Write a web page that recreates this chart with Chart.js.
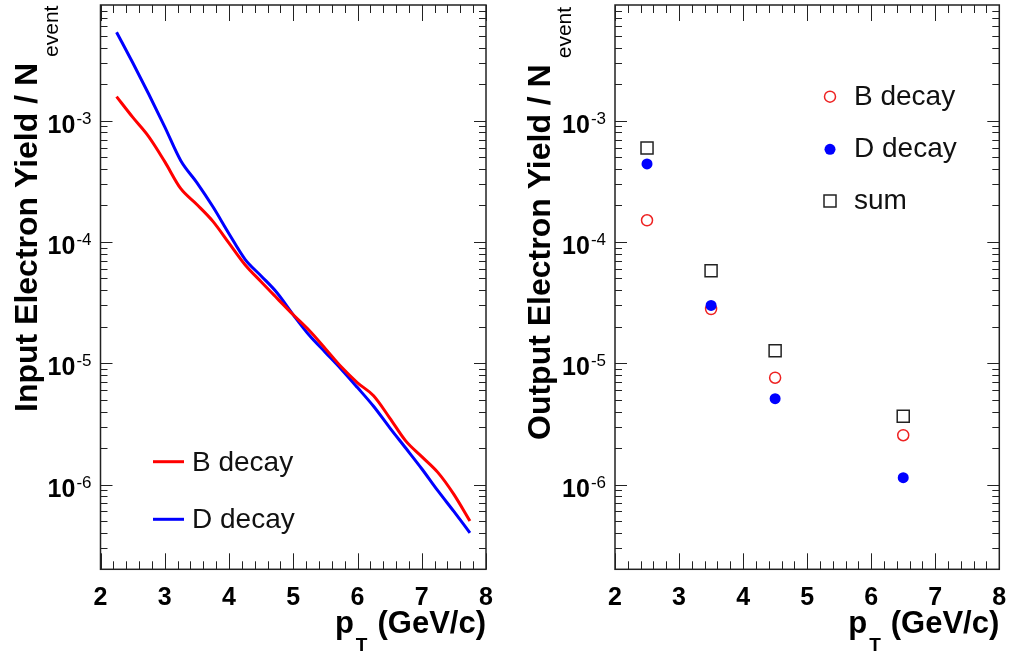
<!DOCTYPE html>
<html>
<head>
<meta charset="utf-8">
<script src="https://cdn.jsdelivr.net/npm/chart.js@4.4.0/dist/chart.umd.min.js"></script>
<style>
  html, body { margin: 0; padding: 0; background: #fff; }
  #wrap { position: relative; width: 1011px; height: 652px; overflow: hidden; }
  .panel { position: absolute; top: 0; height: 652px; }
</style>
</head>
<body>
<div id="wrap">
  <div class="panel" style="left:0;width:505px"><canvas id="inputChart" width="505" height="652"></canvas></div>
  <div class="panel" style="left:505px;width:506px"><canvas id="outputChart" width="506" height="652"></canvas></div>
</div>
<script>
// input yields (left panel)
const curvePt = [2.25, 2.5, 2.75, 3, 3.25, 3.5, 3.75, 4, 4.25, 4.5, 4.75, 5, 5.25, 5.5, 5.75, 6, 6.25, 6.5, 6.75, 7, 7.25, 7.5, 7.75];
const bDecayInput = [1.58e-3, 1.07e-3, 7.4e-4, 4.6e-4, 2.75e-4, 2.04e-4, 1.48e-4, 9.8e-5, 6.5e-5, 4.7e-5, 3.43e-5, 2.51e-5, 1.86e-5, 1.32e-5, 9.3e-6, 6.9e-6, 5.4e-6, 3.55e-6, 2.29e-6, 1.70e-6, 1.26e-6, 8.3e-7, 5.0e-7];
const dDecayInput = [5.37e-3, 3.02e-3, 1.66e-3, 8.9e-4, 4.68e-4, 3.09e-4, 1.95e-4, 1.17e-4, 7.2e-5, 5.25e-5, 3.8e-5, 2.51e-5, 1.70e-5, 1.23e-5, 8.9e-6, 6.3e-6, 4.42e-6, 2.95e-6, 2.0e-6, 1.35e-6, 8.9e-7, 6.0e-7, 4.0e-7];

// output yields (right panel)
const outPt = [2.5, 3.5, 4.5, 6.5];
const bDecayOutput = [1.51e-4, 2.8e-5, 7.6e-6, 2.55e-6];
const dDecayOutput = [4.4e-4, 3.0e-5, 5.1e-6, 1.14e-6];
const sumOutput = [5.96e-4, 5.8e-5, 1.27e-5, 3.65e-6];

// axes
const xTickLabels = ['2', '3', '4', '5', '6', '7', '8'];
const yDecades = [-6, -5, -4, -3];
const xRange = [2, 8];
const yRange = [2e-7, 9e-3];

const FONT = '"Liberation Sans", Arial, Helvetica, sans-serif';
const RED = '#ff0000';
const BLUE = '#0000ff';

const toXY = (xs, ys) => xs.map((v, i) => ({ x: v, y: ys[i] }));

function rootFrame(panel) {
  return {
    id: 'rootFrame',
    afterDraw(chart) {
      const { ctx, chartArea: a, scales: { x, y } } = chart;
      const off = panel.left;
      ctx.save();

      // ticks on all four sides, inside the frame
      ctx.strokeStyle = '#222';
      ctx.lineWidth = 1;
      ctx.beginPath();
      for (let i = 0; i <= 30; i++) {
        const px = Math.round(x.getPixelForValue(xRange[0] + i * 0.2)) + 0.5;
        const len = i % 5 === 0 ? 16 : 8;
        ctx.moveTo(px, a.bottom); ctx.lineTo(px, a.bottom - len);
        ctx.moveTo(px, a.top); ctx.lineTo(px, a.top + len);
      }
      for (let e = -7; e <= -2; e++) {
        for (let m = 1; m <= 9; m++) {
          const v = m * Math.pow(10, e);
          if (v < yRange[0] || v > yRange[1]) continue;
          const py = Math.round(y.getPixelForValue(v)) + 0.5;
          const len = m === 1 ? 12 : 7;
          ctx.moveTo(a.left, py); ctx.lineTo(a.left + len, py);
          ctx.moveTo(a.right, py); ctx.lineTo(a.right - len, py);
        }
      }
      ctx.stroke();
      ctx.lineWidth = 1.5;
      ctx.strokeRect(a.left, a.top, a.right - a.left, a.bottom - a.top);

      // tick labels
      ctx.fillStyle = '#000';
      ctx.textBaseline = 'alphabetic';
      ctx.textAlign = 'center';
      ctx.font = 'bold 25px ' + FONT;
      xTickLabels.forEach(t => ctx.fillText(t, x.getPixelForValue(Number(t)), 605));
      ctx.textAlign = 'right';
      yDecades.forEach(e => {
        const py = y.getPixelForValue(Math.pow(10, e));
        const exp = String(e);
        ctx.font = '17px ' + FONT;
        const ew = ctx.measureText(exp).width;
        ctx.fillText(exp, a.left - 9, py + 3);
        ctx.font = 'bold 25px ' + FONT;
        ctx.fillText('10', a.left - 9 - ew - 1, py + 12);
      });

      // x title: p_T (GeV/c)
      ctx.font = 'bold 31px ' + FONT;
      ctx.fillText('(GeV/c)', a.right, 633);
      const uStart = a.right - ctx.measureText('(GeV/c)').width;
      ctx.font = 'bold 19px ' + FONT;
      ctx.fillText('T', uStart - 10, 651);
      const tw = ctx.measureText('T').width;
      ctx.font = 'bold 31px ' + FONT;
      ctx.fillText('p', uStart - 10 - tw - 2, 633);

      // y title, rotated
      ctx.save();
      ctx.translate(panel.titleX - off, panel.titleY);
      ctx.rotate(-Math.PI / 2);
      ctx.textAlign = 'left';
      ctx.font = 'bold 32px ' + FONT;
      ctx.fillText(panel.title, 0, 0);
      const w = ctx.measureText(panel.title).width;
      ctx.font = '21px ' + FONT;
      ctx.fillText('event', w + 6, 21);
      ctx.restore();

      // legend
      panel.legend(ctx, off);
      ctx.restore();
    }
  };
}

function legendInput(ctx, off) {
  const rows = [['B decay', RED, 461.7], ['D decay', BLUE, 519.3]];
  ctx.font = '28px ' + FONT;
  ctx.textAlign = 'left';
  rows.forEach(([label, color, ly]) => {
    ctx.strokeStyle = color;
    ctx.lineWidth = 3;
    ctx.beginPath();
    ctx.moveTo(153 - off, ly); ctx.lineTo(184 - off, ly);
    ctx.stroke();
    ctx.fillStyle = '#111';
    ctx.fillText(label, 192 - off, ly + 9);
  });
}

function legendOutput(ctx, off) {
  const mx = 830 - off;
  ctx.font = '28px ' + FONT;
  ctx.textAlign = 'left';
  // B decay: open red circle
  ctx.strokeStyle = '#ee2222'; ctx.lineWidth = 1.5;
  ctx.beginPath(); ctx.arc(mx, 96.7, 5.5, 0, Math.PI * 2); ctx.stroke();
  // D decay: filled blue circle
  ctx.fillStyle = BLUE;
  ctx.beginPath(); ctx.arc(mx, 149.3, 5.5, 0, Math.PI * 2); ctx.fill();
  // sum: open black square
  ctx.strokeStyle = '#222'; ctx.lineWidth = 1.5;
  ctx.strokeRect(mx - 6, 195, 12, 12);
  ctx.fillStyle = '#111';
  ctx.fillText('B decay', 854 - off, 104.5);
  ctx.fillText('D decay', 854 - off, 157.3);
  ctx.fillText('sum', 854 - off, 208.5);
}

const panels = [
  { id: 'inputChart', left: 0, width: 505, plotLeft: 100.5, plotRight: 486,
    title: 'Input Electron Yield / N', titleX: 37, titleY: 412, legend: legendInput },
  { id: 'outputChart', left: 505, width: 506, plotLeft: 615, plotRight: 999.3,
    title: 'Output Electron Yield / N', titleX: 550, titleY: 440, legend: legendOutput }
];

function baseOptions(panel) {
  return {
    responsive: false,
    animation: false,
    events: [],
    layout: {
      autoPadding: false,
      padding: { left: panel.plotLeft - panel.left, right: panel.left + panel.width - panel.plotRight, top: 5, bottom: 652 - 569.3 }
    },
    plugins: { legend: { display: false }, tooltip: { enabled: false }, title: { display: false } },
    scales: {
      x: { type: 'linear', min: xRange[0], max: xRange[1], display: false },
      y: { type: 'logarithmic', min: yRange[0], max: yRange[1], display: false }
    }
  };
}

new Chart(document.getElementById('inputChart'), {
  type: 'line',
  data: {
    datasets: [
      { label: 'B decay', data: toXY(curvePt, bDecayInput), borderColor: RED, borderWidth: 3, pointRadius: 0, fill: false, cubicInterpolationMode: 'monotone' },
      { label: 'D decay', data: toXY(curvePt, dDecayInput), borderColor: BLUE, borderWidth: 3, pointRadius: 0, fill: false, cubicInterpolationMode: 'monotone' }
    ]
  },
  options: baseOptions(panels[0]),
  plugins: [rootFrame(panels[0])]
});

new Chart(document.getElementById('outputChart'), {
  type: 'scatter',
  data: {
    datasets: [
      { label: 'D decay', data: toXY(outPt, dDecayOutput), pointStyle: 'circle', pointRadius: 5.5, backgroundColor: BLUE, borderColor: BLUE, borderWidth: 0 },
      { label: 'B decay', data: toXY(outPt, bDecayOutput), pointStyle: 'circle', pointRadius: 5.5, backgroundColor: 'rgba(0,0,0,0)', borderColor: '#ee2222', borderWidth: 1.5 },
      { label: 'sum', data: toXY(outPt, sumOutput), pointStyle: 'rect', pointRadius: 8.5, backgroundColor: 'rgba(0,0,0,0)', borderColor: '#222', borderWidth: 1.5 }
    ]
  },
  options: baseOptions(panels[1]),
  plugins: [rootFrame(panels[1])]
});
</script>
</body>
</html>
